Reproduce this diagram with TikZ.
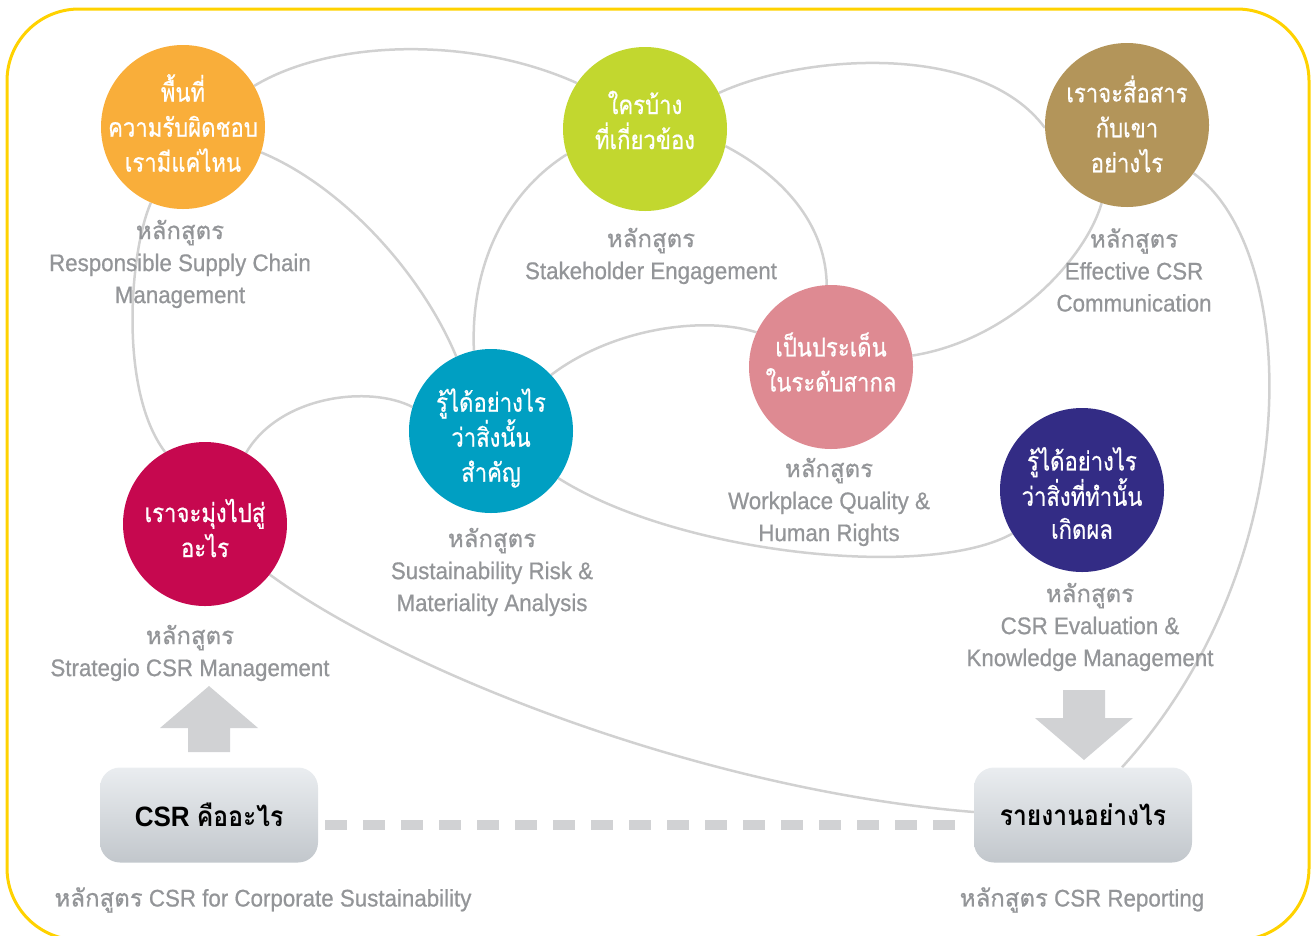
\documentclass[tikz,border=0pt]{standalone}
\usepackage{fontspec}
\setmainfont{Liberation Sans}[FakeStretch=0.93]
\newfontfamily\lblfont{Liberation Sans}[FakeStretch=0.93,FakeBold=0.7]
\newfontfamily\thai[Script=Thai,FakeBold=0.7]{Loma}
\newfontfamily\thaic[Script=Thai,FakeStretch=0.85,FakeBold=0.6]{Loma}
\newfontfamily\thaib[Script=Thai,FakeStretch=0.88]{Loma}
\usetikzlibrary{backgrounds}
\definecolor{corange}{HTML}{F9AE3A}
\definecolor{cgreen}{HTML}{C2D72F}
\definecolor{cbrown}{HTML}{B3955A}
\definecolor{cpink}{HTML}{DE8A92}
\definecolor{cteal}{HTML}{009FC2}
\definecolor{ccrimson}{HTML}{C6084F}
\definecolor{cnavy}{HTML}{332C85}
\definecolor{linegray}{HTML}{D1D1D1}
\definecolor{lblgray}{HTML}{939598}
\definecolor{arrgray}{HTML}{D1D2D4}
\definecolor{cyellow}{HTML}{FFD200}
\definecolor{boxtop}{HTML}{EAEDF0}
\definecolor{boxbot}{HTML}{C2C7CC}
\begin{document}
\begin{tikzpicture}[x=1pt,y=-1pt,
  circ/.style={circle, minimum size=164, inner sep=0},
  ctext/.style={inner sep=0, text=white, align=center,
    font=\thaic\fontsize{26}{35}\selectfont},
  lbl/.style={text=lblgray, align=center, font=\lblfont\fontsize{24}{32}\selectfont, inner sep=0},
  conn/.style={draw=linegray, line width=2.5},
  boxnode/.style={rounded corners=20, minimum width=218, minimum height=95, inner sep=0,
    top color=boxtop, bottom color=boxbot, draw=none, text=black,
    font=\bfseries\fontsize{28}{30}\selectfont},
  dashline/.style={draw=arrgray, line width=10, dash pattern=on 22pt off 16pt},
  blockarrow/.style={fill=arrgray, draw=none}]
\useasboundingbox (0,0) rectangle (1313,935);
\draw[cyellow, line width=3, rounded corners=72] (7,9) rectangle (1309,940);

% circles
\node[circ, fill=corange] (or) at (183,127) {};
\node[circ, fill=cgreen] (gr) at (645,129) {};
\node[circ, fill=cbrown] (br) at (1127,125) {};
\node[circ, fill=cpink] (pk) at (831,367) {};
\node[circ, fill=cteal] (te) at (491,431) {};
\node[circ, fill=ccrimson] (cr) at (205,524) {};
\node[circ, fill=cnavy] (nv) at (1082,490) {};
\node[ctext] (ort) at ([yshift=4pt]or.center) {พื้นที่\\ความรับผิดชอบ\\เรามีแค่ไหน};
\node[ctext] (grt) at ([yshift=9pt]gr.center) {ใครบ้าง\\ที่เกี่ยวข้อง};
\node[ctext] (brt) at ([yshift=1pt]br.center) {เราจะสื่อสาร\\กับเขา\\อย่างไร};
\node[ctext] (pkt) at ([yshift=5pt]pk.center) {เป็นประเด็น\\ในระดับสากล};
\node[ctext] (tet) at ([yshift=-7pt]te.center) {รู้ได้อย่างไร\\ว่าสิ่งนั้น\\สำคัญ};
\node[ctext] (crt) at ([yshift=-4pt]cr.center) {เราจะมุ่งไปสู่\\อะไร};
\node[ctext, font=\thaic\fontsize{26}{33}\selectfont] (nvt) at ([yshift=-3pt]nv.center) {รู้ได้อย่างไร\\ว่าสิ่งที่ทำนั้น\\เกิดผล};

% labels
\node[lbl] (orl) at (180,264) {{\thai หลักสูตร}\\Responsible Supply Chain\\Management};
\node[lbl] (grl) at (651,256) {{\thai หลักสูตร}\\Stakeholder Engagement};
\node[lbl] (brl) at (1134,270) {{\thai หลักสูตร}\\Effective CSR\\Communication};
\node[lbl] (pkl) at (829,502) {{\thai หลักสูตร}\\Workplace Quality \&\\Human Rights};
\node[lbl] (tel) at (492,572) {{\thai หลักสูตร}\\Sustainability Risk \&\\Materiality Analysis};
\node[lbl] (crl) at (190,653) {{\thai หลักสูตร}\\Strategio CSR Management};
\node[lbl] (nvl) at (1090,627) {{\thai หลักสูตร}\\CSR Evaluation \&\\Knowledge Management};

% boxes
\node[boxnode] (csr) at (209,815) {CSR {\thaib คืออะไร}};
\node[boxnode] (rep) at (1083,815) {\thaib รายงานอย่างไร};
\node[lbl] (csrl) at (263,900) {{\thai หลักสูตร} CSR for Corporate Sustainability};
\node[lbl] (repl) at (1082,900) {{\thai หลักสูตร} CSR Reporting};

% block arrows
\fill[blockarrow] (188,752) -- (188,728) -- (160,728) -- (209,686) -- (258,728) -- (230,728) -- (230,752) -- cycle;
\fill[blockarrow] (1063,690) -- (1105,690) -- (1105,718) -- (1133,718) -- (1084,760) -- (1035,718) -- (1063,718) -- cycle;

\begin{scope}[on background layer]
\draw[conn] (or.30) .. controls (330,40) and (470,35) .. (gr.146);
\draw[conn] (or.-18) .. controls (340,185) and (420,270) .. (te.115);
\draw[conn] (or.-113) .. controls (130,250) and (118,390) .. (cr.119);
\draw[conn] (gr.26) .. controls (800,55) and (980,40) .. (br.182);
\draw[conn] (gr.198) .. controls (510,190) and (470,260) .. (te.102);
\draw[conn] (gr.-12) .. controls (790,180) and (826,230) .. (pk.93);
\draw[conn] (br.-108) .. controls (1085,260) and (1010,340) .. (pk.8);
\draw[conn] (br.-36) .. controls (1300,250) and (1310,560) .. ([xshift=39pt]rep.north);
\draw[conn] (cr.60) .. controls (280,395) and (370,385) .. (te.163);
\draw[conn] (te.43) .. controls (610,330) and (700,315) .. (pk.155);
\draw[conn] (te.-35) .. controls (680,555) and (930,580) .. (nv.212);
\draw[conn] (cr.-38) .. controls (400,670) and (700,790) .. ([yshift=3pt]rep.west);
\draw[dashline, shorten <=7pt, shorten >=5pt] ([yshift=-10pt]csr.east) -- ([yshift=-10pt]rep.west);
\end{scope}
\end{tikzpicture}
\end{document}
